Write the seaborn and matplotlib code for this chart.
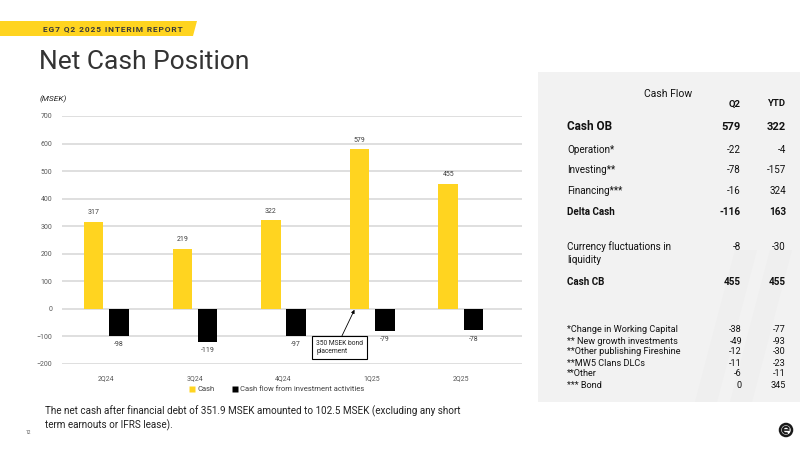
import matplotlib
matplotlib.use("Agg")
import matplotlib.pyplot as plt
import matplotlib.patches as mpatches
from matplotlib.lines import Line2D
import seaborn as sns
import pandas as pd

# ---------------- data ----------------
quarters = ["2Q24", "3Q24", "4Q24", "1Q25", "2Q25"]
cash = [317, 219, 322, 579, 455]
cash_flow_inv = [-98, -119, -97, -79, -78]
series_names = ["Cash", "Cash flow from investment activities"]
y_ticks = [-200, -100, 0, 100, 200, 300, 400, 500, 600, 700]

table_rows = ["Cash OB", "Operation*", "Investing**", "Financing***", "Delta Cash",
              "Currency fluctuations in\nliquidity", "Cash CB"]
table_q2 = ["579", "-22", "-78", "-16", "-116", "-8", "455"]
table_ytd = ["322", "-4", "-157", "324", "163", "-30", "455"]

note_rows = ["*Change in Working Capital", "** New growth investments",
             "**Other publishing Fireshine", "**MW5 Clans DLCs", "**Other", "*** Bond"]
note_q2 = ["-38", "-49", "-12", "-11", "-6", "0"]
note_ytd = ["-77", "-93", "-30", "-23", "-11", "345"]

YELLOW = "#FFD420"
DARK = "#333333"

sns.set_theme(style="white")
plt.rcParams["font.family"] = ["Roboto", "DejaVu Sans"]

df = pd.DataFrame({
    "quarter": quarters * 2,
    "value": cash + cash_flow_inv,
    "series": [series_names[0]] * len(quarters) + [series_names[1]] * len(quarters),
})

W, H = 800, 450
fig = plt.figure(figsize=(8, 4.5), dpi=100)
fig.patch.set_facecolor("white")

def fx(px):
    return px / W

def fy(py):
    return 1 - py / H

# header banner
banner = mpatches.Polygon([(fx(0), fy(21)), (fx(197), fy(21)), (fx(193), fy(36)), (fx(0), fy(36))],
                          closed=True, transform=fig.transFigure, facecolor=YELLOW, edgecolor="none")
fig.patches.append(banner)
fig.text(fx(43), fy(28.5), "\u200a".join("EG7 Q2 2025 INTERIM REPORT"), fontsize=6,
         color="#3a3a3a", va="center", ha="left", fontweight="bold",
         family=["Roboto", "DejaVu Sans"])
fig.text(fx(39), fy(62), "Net Cash Position", fontsize=19, color=DARK, va="center", ha="left")
fig.text(fx(40), fy(99), "(MSEK)", fontsize=6, color="#222222", style="italic", va="center")

# right grey panel
panel = mpatches.Rectangle((fx(538), fy(402)), fx(262), (402 - 72) / H, transform=fig.transFigure,
                           facecolor="#f2f2f2", edgecolor="none", zorder=0)
fig.patches.append(panel)
for x0 in (735, 770):
    stripe = mpatches.Polygon([(fx(x0), fy(250)), (fx(x0 + 22), fy(250)), (fx(x0 - 18), fy(402)),
                               (fx(x0 - 40), fy(402))], closed=True, transform=fig.transFigure,
                              facecolor="#efefef", edgecolor="none", zorder=0)
    fig.patches.append(stripe)

# ---------------- chart ----------------
ax = fig.add_axes([fx(62), fy(364), 460 / W, 248 / H])
ax.set_facecolor("none")
sns.barplot(data=df, x="quarter", y="value", hue="series", palette=[YELLOW, "#000000"],
            saturation=1, width=0.57, gap=0.23, ax=ax, legend=False, edgecolor="none", zorder=3)
ax.set_ylim(-200, 700)
ax.set_xlim(-0.5, 4.69)
ax.set_yticks(y_ticks)
ax.yaxis.grid(True, color="#d9d9d9", linewidth=1.2, zorder=0)
ax.set_axisbelow(True)
for s in ax.spines.values():
    s.set_visible(False)
ax.tick_params(axis="both", length=0, labelsize=5, labelcolor="#595959")
ax.tick_params(axis="y", pad=7)
ax.tick_params(axis="x", pad=8)
ax.set_xlabel("")
ax.set_ylabel("")

for cont in ax.containers:
    ax.bar_label(cont, fmt="%d", padding=4, fontsize=5, color="#404040")

ax.annotate("350 MSEK bond\nplacement", xy=(2.80, -3), xytext=(2.37, -141),
            fontsize=4.8, color="#222222", ha="left", va="center",
            bbox=dict(boxstyle="square,pad=0.6", facecolor="white", edgecolor="#000000", linewidth=0.8),
            arrowprops=dict(arrowstyle="-|>", color="#000000", lw=0.6, mutation_scale=5,
                            shrinkA=0, shrinkB=0, relpos=(0.5, 1.0)))

handles = [Line2D([0], [0], marker="s", linestyle="none", markersize=4,
                  markerfacecolor=c, markeredgecolor="none") for c in (YELLOW, "#000000")]
fig.legend(handles, series_names, loc="center left", bbox_to_anchor=(fx(188), fy(389)), ncol=2,
           frameon=False, fontsize=5.5, handletextpad=0.2, handlelength=1.0,
           columnspacing=2.2, labelcolor="#404040", borderpad=0, borderaxespad=0)

# ---------------- table ----------------
fig.text(fx(668), fy(94), "Cash Flow", fontsize=7.5, color="#111111", ha="center", va="center")
fig.text(fx(741), fy(104), "Q2", fontsize=6.8, fontweight="bold", color="#111111", ha="right", va="center")
fig.text(fx(786), fy(104), "YTD", fontsize=6.8, fontweight="bold", color="#111111", ha="right", va="center")

row_y = [127, 150, 170, 191, 212, 253, 282]
row_style = [(8.5, "bold"), (7.1, "normal"), (7.1, "normal"), (7.1, "normal"), (7.1, "bold"),
             (7.1, "normal"), (7.1, "bold")]
for lab, q2, ytd, y, (fs, fw) in zip(table_rows, table_q2, table_ytd, row_y, row_style):
    fig.text(fx(567), fy(y), lab, fontsize=fs, fontweight=fw, color="#111111", ha="left",
             va="center", linespacing=1.4)
    vy = y - 6 if "\n" in lab else y
    vfs = fs if fs < 8 else 8
    fig.text(fx(741), fy(vy), q2, fontsize=vfs, fontweight=fw, color="#111111", ha="right", va="center")
    fig.text(fx(786), fy(vy), ytd, fontsize=vfs, fontweight=fw, color="#111111", ha="right", va="center")

note_y = [330, 341, 352, 363, 374, 385]
for lab, q2, ytd, y in zip(note_rows, note_q2, note_ytd, note_y):
    fig.text(fx(567), fy(y), lab, fontsize=6.6, color="#111111", ha="left", va="center")
    fig.text(fx(742), fy(y), q2, fontsize=6.6, color="#111111", ha="right", va="center")
    fig.text(fx(786), fy(y), ytd, fontsize=6.6, color="#111111", ha="right", va="center")

# ---------------- footer ----------------
fig.text(fx(45), fy(418),
         "The net cash after financial debt of 351.9 MSEK amounted to 102.5 MSEK (excluding any short\n"
         "term earnouts or IFRS lease).", fontsize=7.1, color="#222222", ha="left", va="center",
         linespacing=1.3)
fig.text(fx(26), fy(432), "12", fontsize=3.5, color="#555555", ha="left", va="center")

# logo (drawn shape)
ring = mpatches.Circle((786, 450 - 430), 6, transform=None, facecolor="none",
                       edgecolor="#1a1a1a", linewidth=1.8)
inner = mpatches.Arc((786, 450 - 430), 6.5, 6.5, theta1=20, theta2=300, transform=None,
                     edgecolor="#1a1a1a", linewidth=1.4)
fig.patches.extend([ring, inner])
fig.lines.append(Line2D([783, 789], [20, 20], transform=None, color="#1a1a1a", linewidth=1.2))

fig.savefig("out.png", dpi=100, facecolor="white")
